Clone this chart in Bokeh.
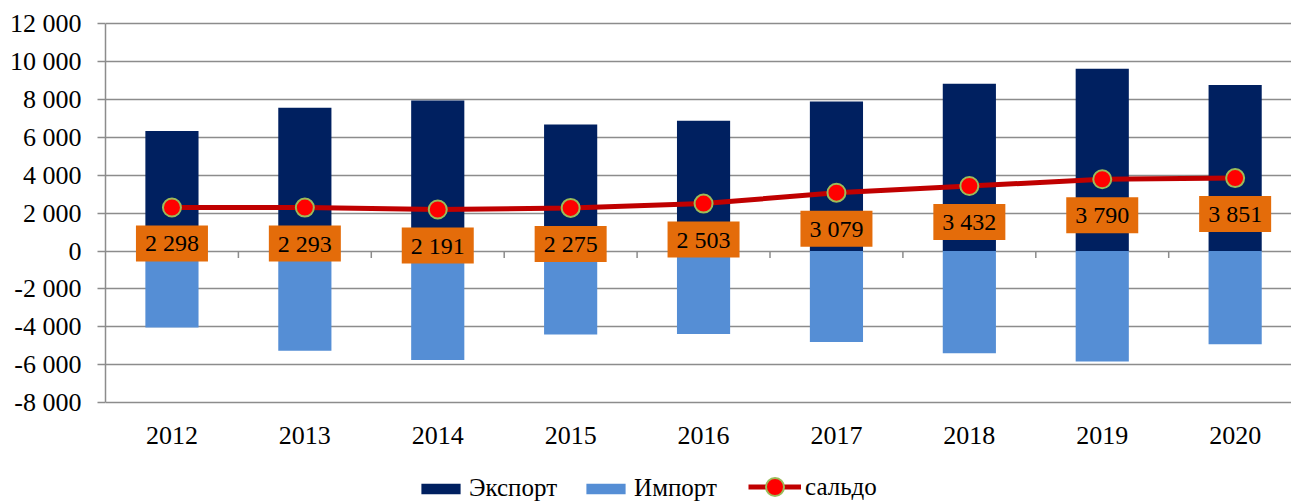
from bokeh.plotting import figure
from bokeh.models import Range1d, FixedTicker, Legend, LegendItem, ColumnDataSource
from bokeh.core.properties import value
from bokeh.embed import file_html
from bokeh.resources import INLINE

years = ["2012", "2013", "2014", "2015", "2016", "2017", "2018", "2019", "2020"]
export_vals = [6340, 7560, 7950, 6680, 6880, 7890, 8830, 9620, 8770]
import_vals = [-4042, -5267, -5759, -4405, -4377, -4811, -5398, -5830, -4919]
saldo_vals = [2298, 2293, 2191, 2275, 2503, 3079, 3432, 3790, 3851]
y_ticks = [-8000, -6000, -4000, -2000, 0, 2000, 4000, 6000, 8000, 10000, 12000]

def fmt(v):
    s = f"{abs(v):,}".replace(",", " ")
    return ("-" if v < 0 else "") + s

idx = list(range(len(years)))
src = ColumnDataSource(dict(x=idx, exp=export_vals, imp=import_vals, sal=saldo_vals,
                            lab=[fmt(v) for v in saldo_vals]))
ysrc = ColumnDataSource(dict(x=idx, y=[y_ticks[0]] * len(idx), t=years))

FONT = "Liberation Serif"
GRID = "#8c8c8c"

p = figure(width=1291, height=504, output_backend="svg", toolbar_location=None,
           x_range=Range1d(-0.5, 8.424), y_range=Range1d(-13388, 12174),
           min_border_left=105, min_border_right=0, min_border_top=20, min_border_bottom=0)
p.outline_line_color = None
p.background_fill_color = "white"
p.border_fill_color = "white"
p.xaxis.visible = False

# grid
p.xgrid.grid_line_color = None
p.ygrid.ticker = FixedTicker(ticks=y_ticks)
p.ygrid.grid_line_color = GRID
p.ygrid.grid_line_width = 1.5

# y axis
p.yaxis.ticker = FixedTicker(ticks=y_ticks)
p.yaxis.bounds = (y_ticks[0], y_ticks[-1])
p.yaxis.major_label_overrides = {t: fmt(t) for t in y_ticks}
p.yaxis.axis_line_color = GRID
p.yaxis.axis_line_width = 1.5
p.yaxis.major_tick_line_color = GRID
p.yaxis.major_tick_line_width = 1.5
p.yaxis.major_tick_out = 8
p.yaxis.major_tick_in = 0
p.yaxis.minor_tick_line_color = None
p.yaxis.major_label_standoff = 16
p.yaxis.major_label_text_font = FONT
p.yaxis.major_label_text_font_size = "26px"
p.yaxis.major_label_text_color = "black"

# category labels (years) under the lowest gridline
p.text(x="x", y="y", text="t", source=ysrc, y_offset=33,
       text_align="center", text_baseline="middle",
       text_font=value(FONT), text_font_size="26px", text_color="black")

# bars
r_exp = p.vbar(x="x", top="exp", bottom=0, width=0.4, source=src,
               fill_color="#002060", line_color=None)
r_imp = p.vbar(x="x", top=0, bottom="imp", width=0.4, source=src,
               fill_color="#558ED5", line_color=None)

# category boundary ticks on the zero line
bx = [i + 0.5 for i in idx[:-1]]
p.segment(x0=bx, x1=bx, y0=[0] * len(bx), y1=[-370] * len(bx),
          line_color=GRID, line_width=1.5)

# saldo line
r_line = p.line(x="x", y="sal", source=src, line_color="#C00000", line_width=5)
r_pts = p.scatter(x="x", y="sal", source=src, size=18, fill_color="#FF0000",
                  line_color="#9BBB59", line_width=2)

# data labels
p.text(x="x", y="sal", text="lab", source=src, y_offset=36,
       text_align="center", text_baseline="middle",
       text_font=value(FONT), text_font_size="24px", text_color="black",
       background_fill_color="#E46C0A", padding=(9, 9, 5, 5))

common = dict(orientation="horizontal", label_standoff=4, padding=0, margin=0,
              border_line_color=None, background_fill_alpha=0,
              label_text_font=FONT, label_text_font_size="25px",
              label_text_color="black")

legend1 = Legend(items=[
    LegendItem(label="Экспорт", renderers=[r_exp]),
    LegendItem(label="Импорт", renderers=[r_imp]),
], location=(311, 2), glyph_width=49, glyph_height=13, spacing=24, **common)
p.add_layout(legend1, "center")

legend2 = Legend(items=[
    LegendItem(label="сальдо", renderers=[r_line, r_pts]),
], location=(643, -5), glyph_width=53, glyph_height=45, spacing=0, **common)
p.add_layout(legend2, "center")

open("out.html", "w").write(file_html(p, INLINE))
